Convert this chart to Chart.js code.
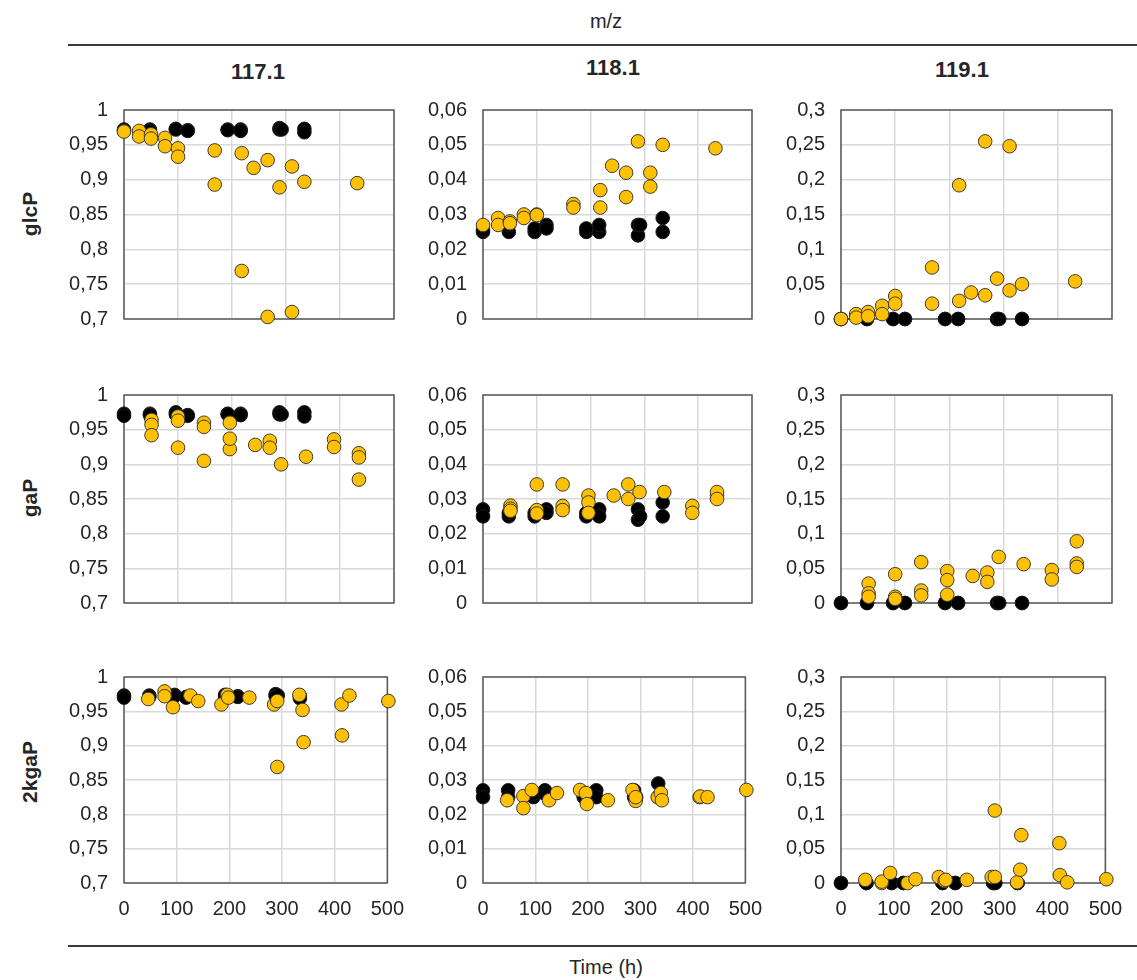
<!DOCTYPE html>
<html>
<head>
<meta charset="utf-8">
<script src="https://cdn.jsdelivr.net/npm/chart.js@4.4.0/dist/chart.umd.min.js"></script>
<style>
  body { margin: 0; background: #fff; font-family: 'Liberation Sans', Arial, sans-serif; color: #262626; }
  #page { position: relative; width: 1137px; height: 980px; overflow: hidden; }
  .lbl { position: absolute; transform: translate(-50%, -50%); white-space: nowrap; }
  .title { font-weight: bold; font-size: 22px; }
  .row { font-weight: bold; font-size: 21px; transform: translate(-50%, -50%) rotate(-90deg); }
  .rule { position: absolute; left: 68px; right: 0; height: 2px; background: #3a3a3a; }
  canvas { position: absolute; }
</style>
</head>
<body>
<div id="page">
  <div class="lbl" style="left:606px;top:21px;font-size:20px;">m/z</div>
  <div class="rule" style="top:44px;"></div>
  <div class="lbl title" style="left:258px;top:72px;">117.1</div>
  <div class="lbl title" style="left:613px;top:68px;">118.1</div>
  <div class="lbl title" style="left:962px;top:70px;">119.1</div>
  <div class="lbl row" style="left:30px;top:214px;">glcP</div>
  <div class="lbl row" style="left:30px;top:498px;">gaP</div>
  <div class="lbl row" style="left:30px;top:772px;">2kgaP</div>
  <div class="rule" style="top:945px;"></div>
  <div class="lbl" style="left:606px;top:967px;font-size:20px;">Time (h)</div>
</div>
<script>
// ===== Data =====
// control (black) sampling times, same in every panel
const timesBlack = [0, 0, 48, 48, 96, 96, 118, 118, 192, 192, 216, 216, 288, 288, 292, 334, 334];
const zerosBlack = timesBlack.map(() => 0);

// glcP row
const timesGlcP = [0, 28, 28, 50, 50, 76, 76, 100, 100, 168, 168, 218, 218, 240, 266, 266, 288, 311, 311, 334, 432];
const glcP117 = [0.969, 0.970, 0.962, 0.965, 0.959, 0.960, 0.948, 0.945, 0.933, 0.942, 0.893, 0.938, 0.769, 0.917, 0.928, 0.703, 0.889, 0.919, 0.710, 0.897, 0.895];
const glcP118 = [0.027, 0.029, 0.027, 0.028, 0.0275, 0.030, 0.029, 0.030, 0.0298, 0.033, 0.032, 0.037, 0.032, 0.044, 0.042, 0.035, 0.051, 0.042, 0.038, 0.050, 0.049];
const glcP119 = [0.000, 0.007, 0.002, 0.010, 0.004, 0.019, 0.007, 0.033, 0.022, 0.074, 0.022, 0.192, 0.026, 0.038, 0.255, 0.034, 0.058, 0.248, 0.041, 0.050, 0.054];
const glcP117Black = [0.972, 0.970, 0.972, 0.970, 0.973, 0.972, 0.971, 0.970, 0.972, 0.971, 0.972, 0.970, 0.974, 0.972, 0.972, 0.973, 0.968];
const glcP118Black = [0.025, 0.0255, 0.025, 0.027, 0.025, 0.026, 0.027, 0.026, 0.025, 0.026, 0.025, 0.027, 0.024, 0.027, 0.027, 0.029, 0.025];

// gaP row
const timesGaP = [51, 51, 51, 100, 100, 100, 148, 148, 148, 196, 196, 196, 243, 270, 270, 291, 337, 389, 389, 435, 435, 435];
const gaP117 = [0.964, 0.957, 0.942, 0.969, 0.963, 0.924, 0.905, 0.960, 0.954, 0.922, 0.960, 0.937, 0.928, 0.934, 0.924, 0.900, 0.911, 0.936, 0.925, 0.916, 0.910, 0.878];
const gaP118 = [0.0281, 0.0272, 0.0266, 0.0342, 0.0268, 0.0258, 0.0342, 0.028, 0.0268, 0.031, 0.029, 0.026, 0.031, 0.0342, 0.030, 0.032, 0.032, 0.028, 0.026, 0.031, 0.032, 0.030];
const gaP119 = [0.028, 0.014, 0.009, 0.0415, 0.009, 0.006, 0.059, 0.018, 0.011, 0.046, 0.033, 0.012, 0.039, 0.044, 0.0305, 0.0665, 0.056, 0.0475, 0.034, 0.089, 0.057, 0.052];
const gaP117Black = [0.973, 0.970, 0.973, 0.971, 0.975, 0.972, 0.971, 0.970, 0.973, 0.972, 0.973, 0.971, 0.975, 0.972, 0.972, 0.975, 0.969];
const gaP118Black = [0.027, 0.025, 0.025, 0.026, 0.025, 0.026, 0.027, 0.026, 0.025, 0.026, 0.027, 0.025, 0.024, 0.027, 0.025, 0.029, 0.025];

// 2kgaP row
const times2kgaP = [46, 77, 77, 93, 126, 141, 185, 196, 198, 238, 285, 291, 291, 333, 339, 341, 413, 414, 428, 502];
const kgaP117 = [0.968, 0.979, 0.972, 0.956, 0.973, 0.965, 0.960, 0.974, 0.970, 0.970, 0.960, 0.965, 0.869, 0.974, 0.952, 0.905, 0.960, 0.915, 0.973, 0.965];
const kgaP118 = [0.0241, 0.0253, 0.0218, 0.0271, 0.0241, 0.0262, 0.0271, 0.0262, 0.023, 0.0241, 0.0271, 0.0239, 0.025, 0.025, 0.0262, 0.0241, 0.025, 0.0252, 0.025, 0.0271];
const kgaP119 = [0.0046, 0.000, 0.002, 0.0147, 0.000, 0.0055, 0.0087, 0.003, 0.0046, 0.0046, 0.0087, 0.1055, 0.0087, 0.001, 0.0193, 0.0697, 0.058, 0.0115, 0.001, 0.0055];
const kgaP117Black = [0.973, 0.970, 0.973, 0.971, 0.974, 0.972, 0.971, 0.970, 0.974, 0.972, 0.972, 0.971, 0.975, 0.972, 0.973, 0.972, 0.969];
const kgaP118Black = [0.027, 0.025, 0.027, 0.025, 0.025, 0.026, 0.027, 0.026, 0.025, 0.0255, 0.027, 0.025, 0.027, 0.025, 0.025, 0.029, 0.025];

// y ranges per m/z column
const yRanges = [
  { min: 0.7, max: 1, step: 0.05 },
  { min: 0, max: 0.06, step: 0.01 },
  { min: 0, max: 0.3, step: 0.05 }
];
const xTicks = [0, 100, 200, 300, 400, 500];

// ===== Layout (plot area rectangles) =====
const cols = [{ left: 124, width: 270 }, { left: 483, width: 269 }, { left: 841, width: 271 }];
const rows = [{ top: 96, height: 237 }, { top: 381, height: 236 }, { top: 663, height: 220 }];
const AXIS_W = 80, PAD_T = 14, PAD_R = 24, PAD_B = 14, XAXIS_H = 46;

const FONT = { family: "'Liberation Sans', Arial, sans-serif", size: 20 };
const fmt = v => String(Math.round(v * 1000) / 1000).replace('.', ',');

// draws the full box round the plot area, under the points
const boxPlugin = {
  id: 'box',
  beforeDatasetsDraw(chart) {
    const a = chart.chartArea, ctx = chart.ctx;
    ctx.save();
    ctx.strokeStyle = '#595959';
    ctx.lineWidth = 1.5;
    ctx.strokeRect(a.left, a.top, a.right - a.left, a.bottom - a.top);
    ctx.restore();
  }
};

function pts(xs, ys) { return xs.map((x, i) => ({ x: x, y: ys[i] })); }

function makePanel(r, c, yellow, black) {
  const col = cols[c], row = rows[r];
  const showX = r === 2;
  const cv = document.createElement('canvas');
  const w = col.width + AXIS_W + PAD_R;
  const h = row.height + PAD_T + (showX ? XAXIS_H : PAD_B);
  cv.width = w; cv.height = h;
  cv.style.left = (col.left - AXIS_W) + 'px';
  cv.style.top = (row.top - PAD_T) + 'px';
  document.getElementById('page').appendChild(cv);
  const yr = yRanges[c];

  new Chart(cv.getContext('2d'), {
    type: 'scatter',
    data: {
      datasets: [
        { data: yellow, backgroundColor: '#FFC000', borderColor: '#3a3a3a', borderWidth: 1, pointRadius: 6.8, clip: false },
        { data: black, backgroundColor: '#000000', borderColor: '#1a1a1a', borderWidth: 1, pointRadius: 6.8, clip: false }
      ]
    },
    options: {
      responsive: false,
      animation: false,
      devicePixelRatio: 1,
      layout: { padding: { top: PAD_T, right: PAD_R, left: 0, bottom: 0 } },
      plugins: { legend: { display: false }, tooltip: { enabled: false } },
      scales: {
        x: {
          type: 'linear', min: 0, max: 500,
          afterBuildTicks: s => { s.ticks = xTicks.map(v => ({ value: v })); },
          afterFit: s => { s.height = showX ? XAXIS_H : PAD_B; },
          grid: { color: '#d9d9d9', lineWidth: 1.5, drawTicks: false },
          border: { display: false },
          ticks: { display: showX, padding: 14, font: FONT, color: '#262626', maxRotation: 0, autoSkip: false }
        },
        y: {
          type: 'linear', min: yr.min, max: yr.max,
          afterFit: s => { s.width = AXIS_W; },
          grid: { color: '#d9d9d9', lineWidth: 1.5, drawTicks: false },
          border: { display: false },
          ticks: { stepSize: yr.step, padding: 16, font: FONT, color: '#262626', autoSkip: false, callback: fmt }
        }
      }
    },
    plugins: [boxPlugin]
  });
}

// row 0: glcP
makePanel(0, 0, pts(timesGlcP, glcP117), pts(timesBlack, glcP117Black));
makePanel(0, 1, pts(timesGlcP, glcP118), pts(timesBlack, glcP118Black));
makePanel(0, 2, pts(timesGlcP, glcP119), pts(timesBlack, zerosBlack));
// row 1: gaP
makePanel(1, 0, pts(timesGaP, gaP117), pts(timesBlack, gaP117Black));
makePanel(1, 1, pts(timesGaP, gaP118), pts(timesBlack, gaP118Black));
makePanel(1, 2, pts(timesGaP, gaP119), pts(timesBlack, zerosBlack));
// row 2: 2kgaP
makePanel(2, 0, pts(times2kgaP, kgaP117), pts(timesBlack, kgaP117Black));
makePanel(2, 1, pts(times2kgaP, kgaP118), pts(timesBlack, kgaP118Black));
makePanel(2, 2, pts(times2kgaP, kgaP119), pts(timesBlack, zerosBlack));
</script>
</body>
</html>
